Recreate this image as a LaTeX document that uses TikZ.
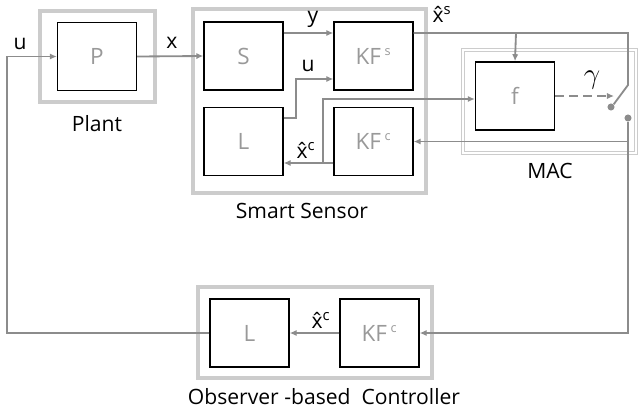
\documentclass[tikz,border=0pt]{standalone}
\usepackage{fontspec}
\setmainfont{Open Sans}
\usetikzlibrary{arrows.meta}
\definecolor{sigcol}{gray}{0.55}
\definecolor{boxcol}{gray}{0.80}
\newcommand{\xhat}{\accent"02C6 x}
\tikzset{
  blk/.style={draw=black,line width=1.1pt,minimum width=1.97cm,minimum height=1.7cm,
    text=gray!80,font=\fontsize{16}{18}\selectfont},
  outerbox/.style={draw=boxcol,line width=2.2pt},
  macbox/.style={draw=boxcol,double=white,double distance=1.6pt,line width=0.6pt},
  sig/.style={draw=sigcol,line width=1.3pt},
  arr/.style={-{Latex[length=5pt,width=4.5pt]}},
  lbl/.style={font=\fontsize{15}{17}\selectfont},
  dot/.style={circle,fill=sigcol,inner sep=0pt,minimum size=5pt}
}
\begin{document}
\begin{tikzpicture}[x=0.025cm,y=-0.025cm]
  \useasboundingbox (0,0) rectangle (638,410);
  % outer frames
  \draw[outerbox] (40,11) rectangle (155,102);
  \draw[outerbox] (193,9) rectangle (426,193);
  \draw[macbox] (463,50) rectangle (636,153);
  \draw[outerbox] (198,287) rectangle (432,378);
  % blocks
  \node[blk] (P) at (97,56.5) {P};
  \node[blk] (S) at (243.5,56) {S};
  \node[blk] (KFs) at (373.5,56) {KF\,\textsuperscript{\small s}};
  \node[blk] (L) at (243.5,141.5) {L};
  \node[blk] (KFc) at (373.5,141.5) {KF\,\textsuperscript{\small c}};
  \node[blk] (f) at (515,96) {f};
  \node[blk] (L2) at (249.5,333) {L};
  \node[blk] (KFc2) at (379.5,333) {KF\,\textsuperscript{\small c}};
  % switch
  \node[dot] (swp) at (611,107) {};
  \node[dot] (swb) at (628,118) {};
  % junctions
  \coordinate (ys) at (300,33);
  \coordinate (ul) at (296,118);
  \coordinate (uk) at (296,79);
  \coordinate (xc) at (323,163);
  \coordinate (fb) at (323,99);
  \coordinate (xs1) at (516,33);
  \coordinate (sw) at (628,33);
  \coordinate (swt) at (628,85);
  \coordinate (gam) at (614,96);
  \coordinate (kcin) at (628,141.5);
  \coordinate (ltop) at (7,56.5);
  % signals
  \draw[sig,arr] (L2.west) -| (ltop) -- (P.west);
  \draw[sig,arr] (P.east) -- (S.west);
  \draw[sig,arr] (S.east |- ys) -- (KFs.west |- ys);
  \draw[sig,arr] (L.east |- ul) -- (ul) -- (uk) -- (KFs.west |- uk);
  \draw[sig,arr] (KFc.west |- xc) -- (L.east |- xc);
  \draw[sig,arr] (xc) -- (fb) -- (f.west |- fb);
  \draw[sig] (KFs.east |- sw) -- (sw) -- (swt) -- (swp.north east);
  \draw[sig,arr] (xs1) -- (f.north);
  \draw[sig,arr,dashed,dash pattern=on 6pt off 4pt] (f.east) -- (gam);
  \draw[sig,arr] (swb) |- (KFc2.east);
  \draw[sig,arr] (kcin) -- (KFc.east);
  \draw[sig,arr] (KFc2.west) -- (L2.east);
  % labels
  \node[lbl] at (20,44) {u};
  \node[lbl] at (172,43) {x};
  \node[lbl] at (313,19) {y};
  \node[lbl] at (308,66) {u};
  \node[lbl] at (306,150) {\xhat\textsuperscript{c}};
  \node[lbl] at (442,14) {\xhat\textsuperscript{s}};
  \node[lbl] at (321,320) {\xhat\textsuperscript{c}};
  \node[font=\fontsize{20}{22}\selectfont] at (592,80) {$\gamma$};
  \node[lbl] at (97,124) {Plant};
  \node[lbl] at (302,211) {Smart Sensor};
  \node[lbl] at (550,171) {MAC};
  \node[lbl] at (324,397) {Observer -based\ \ Controller};
\end{tikzpicture}
\end{document}
